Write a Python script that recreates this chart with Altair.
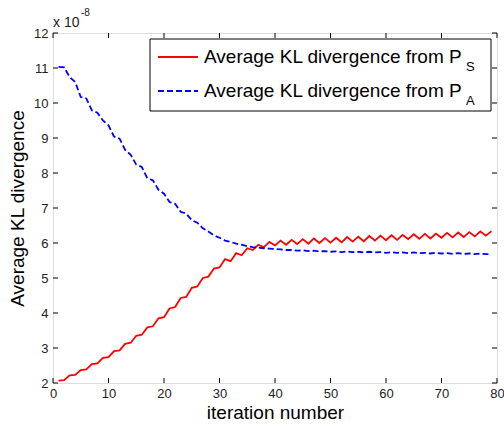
import altair as alt
import pandas as pd

iterations = list(range(1, 80))
kl_from_ps = [2.07, 2.08, 2.22, 2.23, 2.37, 2.39, 2.54, 2.56, 2.72, 2.74,
              2.91, 2.93, 3.12, 3.15, 3.35, 3.38, 3.59, 3.62, 3.85, 3.88,
              4.13, 4.17, 4.43, 4.46, 4.72, 4.76, 5.00, 5.04, 5.27, 5.30,
              5.54, 5.48, 5.71, 5.65, 5.85, 5.80, 5.95, 5.88, 6.03, 5.93,
              6.07, 5.95, 6.09, 5.97, 6.11, 5.98, 6.13, 6.00, 6.14, 6.01,
              6.15, 6.02, 6.17, 6.04, 6.18, 6.05, 6.20, 6.07, 6.21, 6.08,
              6.22, 6.09, 6.23, 6.11, 6.25, 6.12, 6.26, 6.13, 6.27, 6.15,
              6.29, 6.16, 6.30, 6.17, 6.31, 6.19, 6.33, 6.21, 6.34]
kl_from_pa = [11.03, 11.02, 10.74, 10.60, 10.17, 10.13, 9.79, 9.72, 9.50, 9.36,
              9.04, 8.98, 8.66, 8.52, 8.24, 8.17, 7.85, 7.79, 7.52, 7.41,
              7.17, 7.12, 6.89, 6.84, 6.65, 6.58, 6.42, 6.33, 6.22, 6.15,
              6.07, 6.03, 5.98, 5.95, 5.91, 5.88, 5.87, 5.85, 5.84, 5.83,
              5.82, 5.80, 5.80, 5.78, 5.79, 5.77, 5.78, 5.76, 5.77, 5.75,
              5.76, 5.74, 5.76, 5.74, 5.75, 5.73, 5.75, 5.73, 5.74, 5.72,
              5.74, 5.72, 5.73, 5.71, 5.73, 5.71, 5.72, 5.70, 5.72, 5.70,
              5.71, 5.69, 5.71, 5.69, 5.70, 5.68, 5.70, 5.68, 5.69]
x_ticks = [0, 10, 20, 30, 40, 50, 60, 70, 80]
y_ticks = [2, 3, 4, 5, 6, 7, 8, 9, 10, 11, 12]
legend_main = "Average KL divergence from P"
legend_subs = ["S", "A"]
x_title = "iteration number"
y_title = "Average KL divergence"
exp_base = "x 10"
exp_power = "-8"

W, H = 444, 350
FONT = "Liberation Sans"
TXT = "#222222"

df = pd.DataFrame({"iter": iterations, "ps": kl_from_ps, "pa": kl_from_pa})
xt = pd.DataFrame({"iter": x_ticks})
yt = pd.DataFrame({"ps": y_ticks})
one = pd.DataFrame({"k": [0]})

xscale = alt.Scale(domain=[0, 80], nice=False, zero=False)
yscale = alt.Scale(domain=[2, 12], nice=False, zero=False)
xaxis = alt.Axis(values=x_ticks, title=x_title, tickSize=0, domain=False,
                 grid=False, labelFontSize=13, labelPadding=4,
                 labelColor=TXT, titleFontSize=19, titleFontWeight="normal",
                 titleColor="#000", titlePadding=3, labelFlush=False)
yaxis = alt.Axis(values=y_ticks, title=y_title, tickSize=0, domain=False,
                 grid=False, labelFontSize=13, labelPadding=5,
                 labelColor=TXT, titleFontSize=19, titleFontWeight="normal",
                 titleColor="#000", titlePadding=6, labelFlush=False)
X = alt.X("iter:Q", scale=xscale, axis=xaxis)

red = alt.Chart(df).mark_line(color="#ff0000", strokeWidth=1.8).encode(
    x=X, y=alt.Y("ps:Q", scale=yscale, axis=yaxis))
blue = alt.Chart(df).mark_line(color="#0000ff", strokeWidth=1.8, strokeDash=[6, 3]).encode(
    x=X, y=alt.Y("pa:Q", scale=yscale, axis=yaxis))

tb = alt.Chart(xt).mark_rule(color="#000", strokeWidth=1).encode(
    x=X, y=alt.value(H), y2=alt.value(H - 5))
tt = alt.Chart(xt).mark_rule(color="#000", strokeWidth=1).encode(
    x=X, y=alt.value(0), y2=alt.value(5))
YT = alt.Y("ps:Q", scale=yscale, axis=yaxis)
tl = alt.Chart(yt).mark_rule(color="#000", strokeWidth=1).encode(
    y=YT, x=alt.value(0), x2=alt.value(5))
tr = alt.Chart(yt).mark_rule(color="#000", strokeWidth=1).encode(
    y=YT, x=alt.value(W), x2=alt.value(W - 5))

leg_box = alt.Chart(one).mark_rect(fill="white", stroke="#000", strokeWidth=1).encode(
    x=alt.value(97), x2=alt.value(438), y=alt.value(6), y2=alt.value(78))
leg_red = alt.Chart(one).mark_rule(color="#ff0000", strokeWidth=1.8).encode(
    x=alt.value(105), x2=alt.value(145), y=alt.value(24))
leg_blue = alt.Chart(one).mark_rule(color="#0000ff", strokeWidth=1.8, strokeDash=[6, 3]).encode(
    x=alt.value(105), x2=alt.value(145), y=alt.value(58))

def txt(s, x, y, size, color="#000"):
    return alt.Chart(one).mark_text(align="left", baseline="alphabetic", fontSize=size,
                                    font=FONT, color=color).encode(
        x=alt.value(x), y=alt.value(y), text=alt.value(s))

leg_t1 = txt(legend_main, 151, 30, 19)
leg_t2 = txt(legend_main, 151, 64, 19)
leg_s1 = txt(legend_subs[0], 413, 38, 13)
leg_s2 = txt(legend_subs[1], 413, 72, 13)
exp1 = txt(exp_base, 0, -6, 14, color=TXT)
exp2 = txt(exp_power, 28, -17, 10, color=TXT)

chart = alt.layer(red, blue, tb, tt, tl, tr, leg_box, leg_red, leg_blue,
                  leg_t1, leg_t2, leg_s1, leg_s2, exp1, exp2).properties(
    width=W, height=H,
    autosize=alt.AutoSizeParams(type="none"),
    padding={"left": 53, "top": 33, "right": 7, "bottom": 43},
    background="white",
).configure_view(stroke="#000", strokeWidth=1).configure(font=FONT)

chart.save("out.html", embed_options={"renderer": "svg", "actions": False})
